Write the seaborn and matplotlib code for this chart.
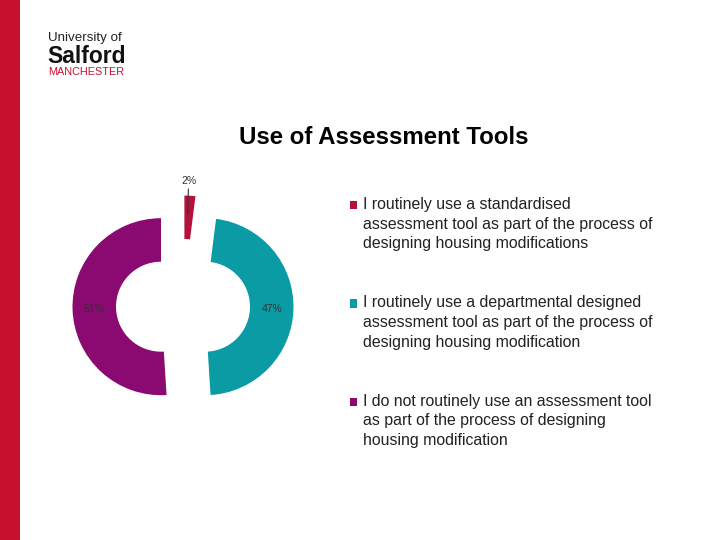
import matplotlib
matplotlib.use("Agg")
import matplotlib.pyplot as plt
import matplotlib.patches as mpatches
from matplotlib.legend_handler import HandlerPatch
import numpy as np
import seaborn as sns

sns.set_theme(style="white")
plt.rcParams['font.family'] = ['Liberation Sans', 'DejaVu Sans']

# ---- data ----
title = "Use of Assessment Tools"
categories = [
    "I routinely use a standardised\nassessment tool as part of the process of\ndesigning housing modifications",
    "I routinely use a departmental designed\nassessment tool as part of the process of\ndesigning housing modification",
    "I do not routinely use an assessment tool\nas part of the process of designing\nhousing modification",
]
values = [2, 47, 51]
colors = ["#B5123B", "#0A9BA5", "#8A0A72"]

W, H = 720, 540
fig = plt.figure(figsize=(7.2, 5.4), dpi=100)
fig.patch.set_facecolor("white")

# left red band
fig.patches.append(mpatches.Rectangle((0, 0), 20 / W, 1, transform=fig.transFigure,
                                      facecolor="#C8102E", edgecolor="none", zorder=0))

# logo
narrow = ['Liberation Sans Narrow', 'Liberation Sans']
fig.text(48 / W, 1 - 41 / H, "University of", fontsize=9.6, color="#222222",
         family=narrow, va="baseline", ha="left")
fig.text(47 / W, 1 - 63 / H, "Salford", fontsize=16.5, fontweight="bold", color="#111111",
         family=narrow, va="baseline", ha="left")
fig.text(48 / W, 1 - 75 / H, "MANCHESTER", fontsize=7.8, color="#C8102E",
         family=narrow, va="baseline", ha="left")

# title
fig.text(384 / W, 1 - 137 / H, title, fontsize=17.3, fontweight="bold",
         color="black", ha="center", va="center")

# pie axes: centre at pixel (183, 306), 1 unit = 100 px
cx, cy, half = 183, 306, 120
ax = fig.add_axes([(cx - half) / W, (H - cy - half) / H, 2 * half / W, 2 * half / H])

wedges, texts, autotexts = ax.pie(
    values, colors=colors, startangle=90, counterclock=False,
    radius=0.885, explode=[0.22, 0.22, 0.22],
    wedgeprops=dict(width=0.435, edgecolor="none"),
    autopct=lambda p: f"{p:.0f}%", pctdistance=0.76,
    textprops=dict(fontsize=7.5, color="#333333"),
)
ax.set_xlim(-1.2, 1.2)
ax.set_ylim(-1.2, 1.2)
ax.set_aspect("equal")
ax.axis("off")

# move the small slice label outside with a leader line
w0 = wedges[0]
th = np.deg2rad((w0.theta1 + w0.theta2) / 2)
x0, y0 = w0.center
inner = (x0 + (w0.r - 0.185) * np.cos(th) - 0.01, y0 + (w0.r - 0.185) * np.sin(th))
outer = (x0 + (w0.r + 0.10) * np.cos(th) - 0.02, y0 + (w0.r + 0.10) * np.sin(th))
autotexts[0].set_visible(False)
ax.annotate(autotexts[0].get_text(), xy=inner, xytext=outer, ha="center", va="bottom",
            fontsize=7.5, color="#333333",
            arrowprops=dict(arrowstyle="-", color="#333333", lw=0.8,
                            shrinkA=0, shrinkB=0))


class TopSquare(HandlerPatch):
    """Square legend key aligned with the first line of a multi-line label."""
    def __init__(self, shift, **kw):
        super().__init__(**kw)
        self.shift = shift

    def create_artists(self, legend, orig_handle, xdescent, ydescent, width, height,
                       fontsize, trans):
        p = mpatches.Rectangle((-xdescent, -ydescent + self.shift), width, height,
                               facecolor=orig_handle.get_facecolor(), edgecolor="none",
                               transform=trans)
        return [p]


fs = 11.4
LS = 1.38
handler = TopSquare(shift=14.0)
leg = fig.legend(wedges, categories, loc="upper left",
                 bbox_to_anchor=(350 / W, 1 - 197 / H), frameon=False,
                 fontsize=fs, handlelength=0.45, handleheight=0.45,
                 handletextpad=0.35, labelspacing=2.8, labelcolor="#222222",
                 borderpad=0, borderaxespad=0,
                 handler_map={mpatches.Wedge: handler})
for t in leg.get_texts():
    t.set_linespacing(LS)

fig.savefig("out.png", dpi=100, facecolor="white")
